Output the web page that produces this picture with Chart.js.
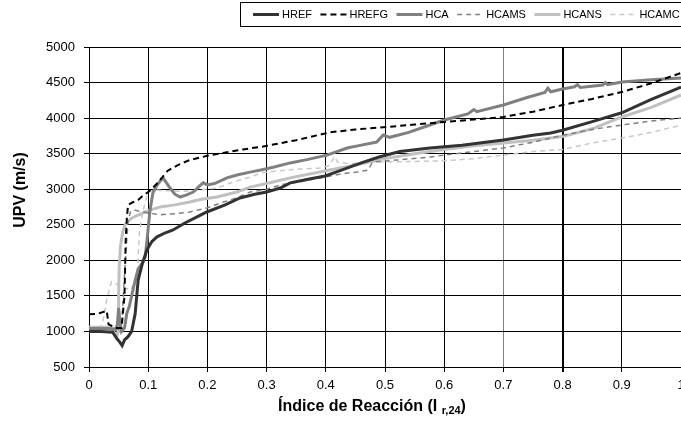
<!DOCTYPE html>
<html><head><meta charset="utf-8">
<script src="https://cdn.jsdelivr.net/npm/chart.js@4/dist/chart.umd.min.js"></script>
<style>
html,body{margin:0;padding:0;overflow:hidden;background:#fff;width:681px;height:428px}
#wrap{position:absolute;left:0;top:0;width:700px;height:428px}
</style></head><body>
<div id="wrap"><canvas id="c"></canvas></div>
<script>
// ---- data ----
const xTickLabels = ['0','0.1','0.2','0.3','0.4','0.5','0.6','0.7','0.8','0.9','1'];
const yTickValues = [500,1000,1500,2000,2500,3000,3500,4000,4500,5000];
const seriesNames = ['HREF','HREFG','HCA','HCAMS','HCANS','HCAMC'];

const hrefX = [0,0.02,0.04,0.047,0.052,0.056,0.06,0.066,0.072,0.078,0.083,0.09,0.098,0.106,0.115,0.128,0.142,0.162,0.18,0.199,0.23,0.255,0.28,0.30,0.323,0.34,0.37,0.399,0.43,0.46,0.49,0.525,0.576,0.63,0.70,0.75,0.78,0.80,0.85,0.90,0.948,1.0];
const hrefY = [1000,1000,990,900,850,800,880,926,1000,1250,1720,1950,2150,2262,2330,2384,2427,2525,2600,2680,2780,2877,2930,2960,3017,3090,3140,3186,3280,3370,3453,3530,3580,3620,3692,3760,3790,3830,3950,4075,4255,4437];

const hrefgX = [0,0.015,0.03,0.033,0.045,0.055,0.06,0.061,0.062,0.064,0.066,0.075,0.083,0.09,0.1,0.115,0.133,0.15,0.17,0.2,0.226,0.26,0.294,0.35,0.407,0.45,0.503,0.55,0.6,0.65,0.7,0.75,0.8,0.85,0.9,0.95,1.0];
const hrefgY = [1240,1250,1290,1100,1050,1050,1500,1900,2300,2600,2780,2820,2850,2900,2960,3080,3260,3340,3410,3470,3510,3560,3600,3690,3800,3840,3875,3910,3945,3980,4016,4090,4184,4270,4367,4490,4634];

const hcaX = [0,0.03,0.045,0.048,0.05,0.052,0.055,0.06,0.064,0.068,0.072,0.078,0.083,0.09,0.095,0.098,0.103,0.108,0.115,0.125,0.13,0.137,0.145,0.154,0.165,0.176,0.186,0.193,0.2,0.212,0.233,0.25,0.272,0.29,0.311,0.34,0.37,0.402,0.436,0.46,0.486,0.497,0.508,0.54,0.576,0.6,0.64,0.65,0.655,0.7,0.74,0.77,0.775,0.78,0.8,0.82,0.825,0.83,0.868,0.872,0.876,0.9,0.95,1.0];
const hcaY = [1040,1040,1030,1100,1330,1150,1000,1050,1260,1350,1500,1720,1880,1960,2050,2286,2700,2950,3060,3160,3100,3017,2930,2890,2920,2960,3040,3090,3060,3080,3160,3200,3240,3270,3310,3370,3420,3480,3580,3620,3664,3763,3730,3800,3903,3973,4060,4120,4090,4184,4290,4360,4420,4370,4410,4440,4470,4430,4466,4500,4470,4508,4540,4564];

const hcamsX = [0,0.03,0.05,0.055,0.058,0.06,0.063,0.066,0.07,0.075,0.085,0.1,0.12,0.15,0.17,0.199,0.227,0.25,0.272,0.3,0.323,0.36,0.399,0.43,0.453,0.472,0.476,0.48,0.52,0.576,0.6,0.65,0.7,0.75,0.8,0.85,0.9,0.95,1.0];
const hcamsY = [1050,1050,1030,1100,1500,1800,2200,2550,2680,2710,2690,2665,2640,2660,2680,2736,2820,2880,2960,3000,3060,3110,3172,3220,3243,3270,3340,3383,3410,3453,3480,3530,3580,3660,3760,3840,3903,3960,4000];

const hcansX = [0,0.03,0.04,0.043,0.047,0.049,0.05,0.051,0.053,0.057,0.061,0.07,0.078,0.09,0.1,0.12,0.145,0.17,0.19,0.216,0.25,0.272,0.3,0.34,0.4,0.45,0.5,0.55,0.6,0.65,0.7,0.75,0.8,0.85,0.9,0.95,1.0];
const hcansY = [1060,1060,1050,950,930,1000,1500,1900,2190,2400,2500,2580,2620,2660,2700,2750,2780,2820,2860,2890,2960,3030,3080,3160,3260,3340,3430,3500,3560,3610,3650,3690,3740,3850,4016,4150,4325];

const hcamcX = [0,0.02,0.025,0.03,0.038,0.05,0.07,0.078,0.082,0.085,0.09,0.095,0.1,0.11,0.13,0.16,0.18,0.2,0.217,0.24,0.273,0.29,0.32,0.35,0.39,0.405,0.415,0.42,0.44,0.47,0.5,0.55,0.6,0.65,0.7,0.75,0.8,0.85,0.9,0.95,1.0];
const hcamcY = [1050,1060,1200,1450,1700,1650,1580,1700,1850,2400,2650,2820,2960,2990,2980,2970,2980,3000,3017,3090,3172,3228,3260,3280,3300,3330,3460,3380,3360,3380,3385,3390,3400,3430,3480,3530,3560,3650,3720,3800,3900];

const toPts = (xs, ys) => xs.map((x, i) => ({x, y: ys[i]}));
const FONT = "'Liberation Sans', Arial, sans-serif";

const styles = [
  {color:'#333333', width:3, dash:[]},
  {color:'#000000', width:2, dash:[6,4]},
  {color:'#808080', width:3, dash:[]},
  {color:'#808080', width:1.5, dash:[5,4]},
  {color:'#c0c0c0', width:3, dash:[]},
  {color:'#c8c8c8', width:1.5, dash:[5,4]}
];
const seriesData = [toPts(hrefX,hrefY), toPts(hrefgX,hrefgY), toPts(hcaX,hcaY), toPts(hcamsX,hcamsY), toPts(hcansX,hcansY), toPts(hcamcX,hcamcY)];

const datasets = seriesNames.map((n, i) => ({
  label: n, data: seriesData[i],
  borderColor: styles[i].color, backgroundColor: styles[i].color,
  borderWidth: styles[i].width, borderDash: styles[i].dash,
  pointRadius: 0, fill: false, tension: 0
}));

// legend geometry
const LEG = { start: 253, line: 26, gap: 3, itemGap: 8.5, y: 14.5, font: 11, boxLeft: 240, boxTop: 2.5, boxH: 24 };

const decor = {
  id: 'decor',
  afterDraw(chart) {
    const ctx = chart.ctx;
    ctx.save();
    ctx.strokeStyle = '#000'; ctx.lineWidth = 1; ctx.setLineDash([]);
    ctx.strokeRect(LEG.boxLeft + 0.5, LEG.boxTop, 700, LEG.boxH);
    // legend
    ctx.font = LEG.font + 'px ' + FONT; ctx.textBaseline = 'middle'; ctx.textAlign = 'left';
    let x = LEG.start;
    chart.data.datasets.forEach(ds => {
      ctx.beginPath();
      ctx.strokeStyle = ds.borderColor; ctx.lineWidth = ds.borderWidth; ctx.setLineDash(ds.borderDash || []);
      ctx.moveTo(x, LEG.y); ctx.lineTo(x + LEG.line, LEG.y); ctx.stroke();
      ctx.setLineDash([]);
      x += LEG.line + LEG.gap;
      ctx.fillStyle = '#000'; ctx.fillText(ds.label, x, LEG.y + 0.5);
      x += ctx.measureText(ds.label).width + LEG.itemGap;
    });
    // y title
    ctx.fillStyle = '#000';
    ctx.font = "bold 16px " + FONT;
    ctx.translate(21, 190); ctx.rotate(-Math.PI/2);
    ctx.textAlign = 'center'; ctx.textBaseline = 'middle';
    ctx.fillText('UPV (m/s)', 0, 0);
    ctx.restore();
    // x title with subscript
    ctx.save();
    ctx.fillStyle = '#000'; ctx.textBaseline = 'alphabetic'; ctx.textAlign = 'left';
    const main = 'Índice de Reacción (I ', sub = 'r,24', end = ')';
    ctx.font = "bold 16px " + FONT; const w1 = ctx.measureText(main).width, w3 = ctx.measureText(end).width;
    ctx.font = "bold 11px " + FONT; const w2 = ctx.measureText(sub).width;
    let tx = 372 - (w1 + w2 + w3)/2; const ty = 411;
    ctx.font = "bold 16px " + FONT; ctx.fillText(main, tx, ty); tx += w1;
    ctx.font = "bold 11px " + FONT; ctx.fillText(sub, tx, ty + 3); tx += w2;
    ctx.font = "bold 16px " + FONT; ctx.fillText(end, tx, ty);
    ctx.restore();
  }
};

new Chart(document.getElementById('c'), {
  type: 'line',
  data: { datasets },
  plugins: [decor],
  options: {
    responsive: true, maintainAspectRatio: false, animation: false, devicePixelRatio: 1,
    layout: { padding: { left: 0, right: 19, top: 47, bottom: 0 } },
    plugins: { legend: { display: false }, tooltip: { enabled: false } },
    scales: {
      x: {
        type: 'linear', min: 0, max: 1,
        afterBuildTicks: s => { s.ticks = xTickLabels.map(v => ({value: parseFloat(v)})); },
        afterFit: s => { s.height = 61; },
        ticks: { callback: (v, i) => xTickLabels[i], color: '#000', font: { family: FONT, size: 13 }, padding: 6, maxRotation: 0, autoSkip: false },
        grid: { color: c => (c.index === 7 ? '#808080' : '#000'), lineWidth: c => (c.index === 8 ? 2 : 1), tickLength: 5, tickColor: '#000' },
        border: { color: '#000', width: 1 }
      },
      y: {
        min: 500, max: 5000,
        afterBuildTicks: s => { s.ticks = yTickValues.map(v => ({value: v})); },
        afterFit: s => { s.width = 89; },
        ticks: { callback: v => String(v), color: '#000', font: { family: FONT, size: 13 }, padding: 9 },
        grid: { color: '#000', tickLength: 5 },
        border: { color: '#000', width: 1 }
      }
    }
  }
});
</script>
</body></html>
